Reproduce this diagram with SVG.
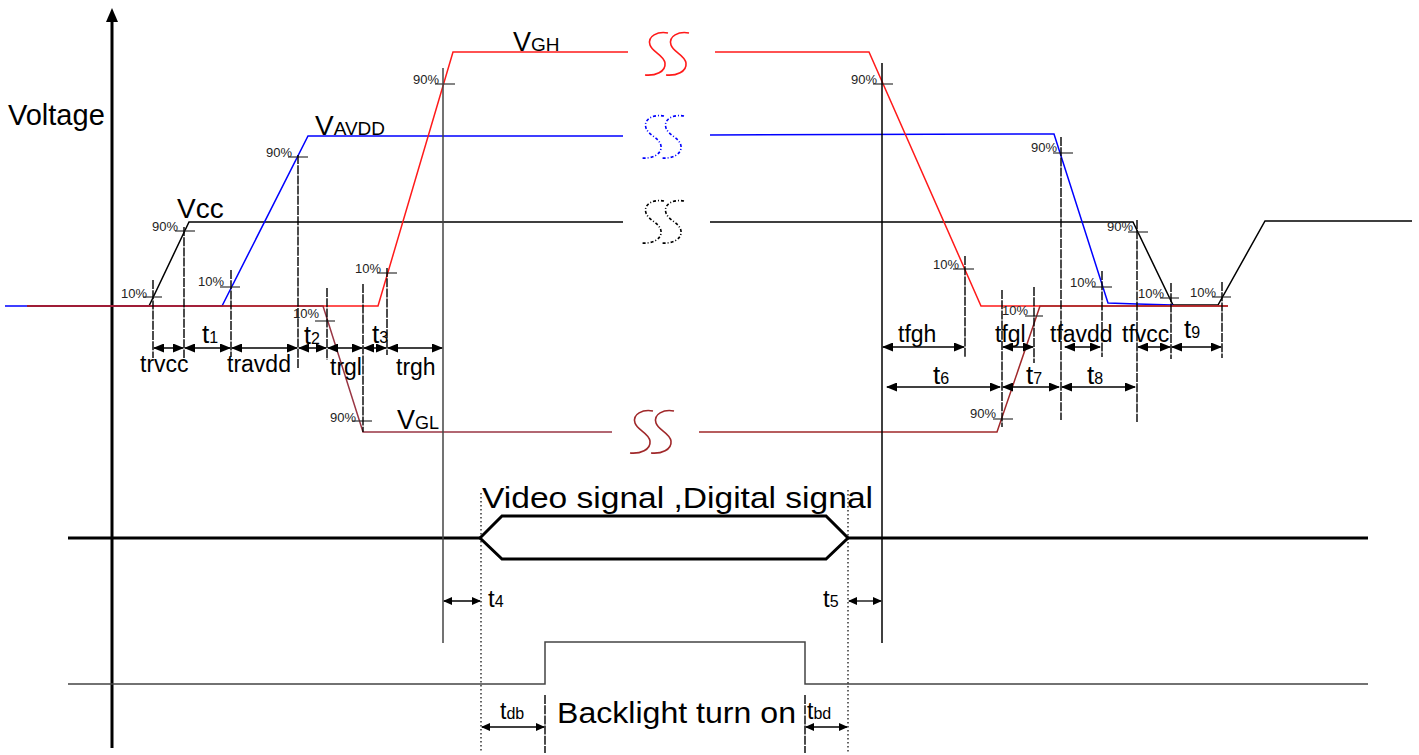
<svg xmlns="http://www.w3.org/2000/svg" xmlns:xlink="http://www.w3.org/1999/xlink" width="1419" height="755" viewBox="0 0 1419 755">
<style>
text{font-family:"Liberation Sans",Arial,sans-serif;fill:#000}
.pct{font-size:13px;fill:#222}
.lbl{font-size:23px}
.big{font-size:28px}
.sub{font-size:16px}
.tick{stroke:#333;stroke-width:1.2}
.vd{stroke:#000;stroke-width:1.4;stroke-dasharray:9 1.2}
.dot{stroke:#000;stroke-width:1.2;stroke-dasharray:1.5 2.5}
.dim{stroke:#000;stroke-width:1.5;marker-start:url(#ah);marker-end:url(#ah)}
.dims{stroke:#000;stroke-width:1.3;marker-start:url(#ahs);marker-end:url(#ahs)}
.sig{fill:none;stroke-width:1.5;stroke-linejoin:miter}
.ss{fill:none;stroke-width:1.6}
</style>
<defs>
<marker id="ah" markerUnits="userSpaceOnUse" markerWidth="11" markerHeight="9" refX="10" refY="4.5" orient="auto-start-reverse"><path d="M0,0 L11,4.5 L0,9 z" fill="#000"/></marker>
<marker id="ahs" markerUnits="userSpaceOnUse" markerWidth="9" markerHeight="8" refX="8" refY="4" orient="auto-start-reverse"><path d="M0,0 L9,4 L0,8 z" fill="#000"/></marker>
<path id="s" d="M23,1 C13,-1 2,4 5,13 C7,20 19,23 20,31 C21,40 10,44 0,43"/>
</defs>

<g id="axis">
<line x1="112" y1="20" x2="112" y2="748" stroke="#000" stroke-width="3"/>
<polygon points="112,8 106,22 118,22" fill="#000"/>
<text x="8" y="125" style="font-size:29px">Voltage</text>
</g>

<g id="vcc">
<polyline class="sig" stroke="#000" points="27,306 149,306 189,222 623,222"/>
<polyline class="sig" stroke="#000" points="710,222 1133,222 1173,305 1218,305 1265,221 1412,221"/>
<g class="ss" stroke="#000" stroke-dasharray="3 2 1 2"><use xlink:href="#s" x="641" y="200"/><use xlink:href="#s" x="661" y="200"/></g>
<text x="177" y="218" class="big">Vcc</text>
</g>

<g id="vavdd">
<polyline class="sig" stroke="#0000ff" points="5,306 222,306 308,136 623,136"/>
<polyline class="sig" stroke="#0000ff" points="710,135 1054,134 1108,303 1137,304 1173,305"/>
<g class="ss" stroke="#0000ff" stroke-dasharray="3 2 1 2"><use xlink:href="#s" x="641" y="115"/><use xlink:href="#s" x="661" y="115"/></g>
<text x="315" y="135" class="big">V<tspan style="font-size:19px">AVDD</tspan></text>
</g>

<g id="vgh">
<polyline class="sig" stroke="#ff1a1a" points="27,306 378,306 453,52 628,52"/>
<polyline class="sig" stroke="#ff1a1a" points="715,52 869,52 981,306 1228,306"/>
<g class="ss" stroke="#ff1a1a"><use xlink:href="#s" x="645" y="32"/><use xlink:href="#s" x="666" y="32"/></g>
<text x="513" y="51" style="font-size:27px">V<tspan style="font-size:19px">GH</tspan></text>
</g>

<g id="vgl">
<polyline class="sig" stroke="#8e2030" stroke-opacity="0.9" points="27,306 323,306 363,432 612,432"/>
<polyline class="sig" stroke="#a0282a" points="699,432 997,432 1040,306 1228,306"/>
<g class="ss" stroke="#a0282a"><use xlink:href="#s" x="630" y="410"/><use xlink:href="#s" x="651" y="410"/></g>
<text x="397" y="429" style="font-size:27px">V<tspan style="font-size:18px">GL</tspan></text>
</g>

<g id="ticks">
<line class="tick" x1="143" y1="297" x2="162" y2="297"/><text class="pct" x="121" y="298">10%</text>
<line class="tick" x1="175" y1="231" x2="195" y2="231"/><text class="pct" x="152" y="231">90%</text>
<line class="tick" x1="220" y1="287" x2="240" y2="287"/><text class="pct" x="198" y="286">10%</text>
<line class="tick" x1="288" y1="157" x2="308" y2="157"/><text class="pct" x="266" y="157">90%</text>
<line class="tick" x1="315" y1="321" x2="335" y2="321"/><text class="pct" x="293" y="318">10%</text>
<line class="tick" x1="352" y1="421" x2="372" y2="421"/><text class="pct" x="330" y="422">90%</text>
<line class="tick" x1="377" y1="273" x2="397" y2="273"/><text class="pct" x="355" y="273">10%</text>
<line class="tick" x1="435" y1="84" x2="455" y2="84"/><text class="pct" x="413" y="84">90%</text>
<line class="tick" x1="873" y1="84" x2="893" y2="84"/><text class="pct" x="851" y="84">90%</text>
<line class="tick" x1="953" y1="269" x2="974" y2="269"/><text class="pct" x="933" y="269">10%</text>
<line class="tick" x1="1025" y1="316" x2="1043" y2="316"/><text class="pct" x="1002" y="315">10%</text>
<line class="tick" x1="993" y1="419" x2="1013" y2="419"/><text class="pct" x="970" y="418">90%</text>
<line class="tick" x1="1053" y1="153" x2="1073" y2="153"/><text class="pct" x="1031" y="152">90%</text>
<line class="tick" x1="1092" y1="287" x2="1112" y2="287"/><text class="pct" x="1070" y="287">10%</text>
<line class="tick" x1="1128" y1="232" x2="1148" y2="232"/><text class="pct" x="1107" y="231">90%</text>
<line class="tick" x1="1160" y1="298" x2="1179" y2="298"/><text class="pct" x="1138" y="298">10%</text>
<line class="tick" x1="1212" y1="297" x2="1231" y2="297"/><text class="pct" x="1190" y="297">10%</text>
</g>

<g id="bus">
<polyline fill="none" stroke="#000" stroke-width="3" points="68,538 480,538"/>
<polygon fill="none" stroke="#000" stroke-width="3" stroke-linejoin="miter" points="480,538 502,516 826,516 848,538 826,559 502,559"/>
<polyline fill="none" stroke="#000" stroke-width="3" points="848,538 1368,538"/>
<text x="482" y="508" style="font-size:29px" textLength="391" lengthAdjust="spacingAndGlyphs">Video signal ,Digital signal</text>
</g>

<g id="backlight">
<polyline fill="none" stroke="#444" stroke-width="1.5" points="68,684 545,684 545,642 805,642 805,684 1368,684"/>
<text x="557" y="723" style="font-size:30px" textLength="239" lengthAdjust="spacingAndGlyphs">Backlight turn on</text>
</g>

<g id="connectors">
<line x1="443" y1="68" x2="443" y2="643" stroke="#444" stroke-width="1.5"/>
<line x1="882" y1="63" x2="882" y2="643" stroke="#000" stroke-width="1.5"/>
<line class="vd" x1="153" y1="280" x2="153" y2="358"/>
<line class="vd" x1="184" y1="227" x2="184" y2="358"/>
<line class="vd" x1="231" y1="270" x2="231" y2="357"/>
<line class="vd" x1="298" y1="155" x2="298" y2="368"/>
<line class="vd" x1="327" y1="288" x2="327" y2="360"/>
<line class="vd" x1="363" y1="284" x2="363" y2="432"/>
<line class="vd" x1="387" y1="268" x2="387" y2="355"/>
<line class="vd" x1="965" y1="256" x2="965" y2="358"/>
<line class="vd" x1="1002" y1="290" x2="1002" y2="427"/>
<line class="vd" x1="1034" y1="287" x2="1034" y2="363"/>
<line class="vd" x1="1061" y1="137" x2="1061" y2="420"/>
<line class="vd" x1="1102" y1="271" x2="1102" y2="357"/>
<line class="vd" x1="1137" y1="220" x2="1137" y2="422"/>
<line class="vd" x1="1171" y1="283" x2="1171" y2="359"/>
<line class="vd" x1="1222" y1="282" x2="1222" y2="358"/>
<line class="dot" x1="481" y1="493" x2="481" y2="753"/>
<line class="dot" x1="848" y1="490" x2="848" y2="753"/>
<line class="vd" x1="545" y1="695" x2="545" y2="753"/>
<line class="vd" x1="805" y1="695" x2="805" y2="753"/>

<line class="dim" x1="154" y1="348" x2="183" y2="348"/>
<line class="dim" x1="185" y1="348" x2="230" y2="348"/>
<line class="dim" x1="232" y1="348" x2="297" y2="348"/>
<line class="dim" x1="299" y1="348" x2="326" y2="348"/>
<line class="dim" x1="328" y1="348" x2="362" y2="348"/>
<line class="dim" x1="364" y1="348" x2="386" y2="348"/>
<line class="dim" x1="388" y1="348" x2="442" y2="348"/>
<line class="dim" x1="883" y1="347" x2="964" y2="347"/>
<line class="dim" x1="1003" y1="347" x2="1033" y2="347"/>
<line class="dim" x1="1065" y1="347" x2="1100" y2="347"/>
<line class="dim" x1="1138" y1="347" x2="1170" y2="347"/>
<line class="dim" x1="1172" y1="347" x2="1221" y2="347"/>
<line class="dim" x1="887" y1="387" x2="1000" y2="387"/>
<line class="dim" x1="1003" y1="387" x2="1059" y2="387"/>
<line class="dim" x1="1062" y1="387" x2="1135" y2="387"/>
<line class="dims" x1="444" y1="601" x2="480" y2="601"/>
<line class="dims" x1="849" y1="601" x2="881" y2="601"/>
<line class="dims" x1="482" y1="727" x2="544" y2="727"/>
<line class="dims" x1="806" y1="727" x2="847" y2="727"/>

<text class="lbl" x="140" y="372">trvcc</text>
<text class="lbl" x="227" y="372">travdd</text>
<text class="lbl" x="330" y="375">trgl</text>
<text class="lbl" x="396" y="375">trgh</text>
<text class="lbl" x="898" y="342">tfgh</text>
<text class="lbl" x="995" y="342">tfgl</text>
<text class="lbl" x="1050" y="342">tfavdd</text>
<text class="lbl" x="1122" y="342">tfvcc</text>
<text x="202" y="343" style="font-size:26px">t<tspan class="sub">1</tspan></text>
<text x="304" y="344" style="font-size:25px">t<tspan class="sub">2</tspan></text>
<text x="372" y="343" style="font-size:26px">t<tspan class="sub">3</tspan></text>
<text x="933" y="384" style="font-size:26px">t<tspan class="sub">6</tspan></text>
<text x="1026" y="384" style="font-size:26px">t<tspan class="sub">7</tspan></text>
<text x="1087" y="384" style="font-size:26px">t<tspan class="sub">8</tspan></text>
<text x="1184" y="338" style="font-size:26px">t<tspan class="sub">9</tspan></text>
<text x="488" y="607" style="font-size:24px">t<tspan class="sub">4</tspan></text>
<text x="823" y="607" style="font-size:24px">t<tspan class="sub">5</tspan></text>
<text x="500" y="719" style="font-size:23px">t<tspan class="sub">db</tspan></text>
<text x="807" y="719" style="font-size:23px">t<tspan class="sub">bd</tspan></text>
</g>
</svg>
